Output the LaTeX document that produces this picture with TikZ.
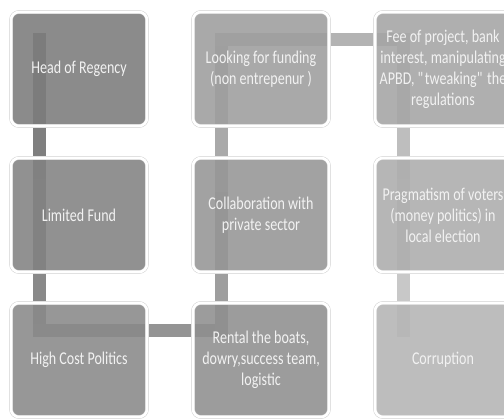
\documentclass[tikz,border=0pt]{standalone}
\usepackage{fontspec}
\setmainfont{Carlito}[FakeStretch=0.78]
\usepackage{tikz}
\usetikzlibrary{backgrounds}

% stage fills, dark to light
\definecolor{boxA}{RGB}{124,124,124}
\definecolor{boxB}{RGB}{130,130,130}
\definecolor{boxC}{RGB}{137,137,137}
\definecolor{boxD}{RGB}{143,143,143}
\definecolor{boxE}{RGB}{150,150,150}
\definecolor{boxF}{RGB}{158,158,158}
\definecolor{boxG}{RGB}{165,165,165}
\definecolor{boxH}{RGB}{173,173,173}
\definecolor{boxI}{RGB}{181,181,181}
% bars between stages
\definecolor{linkA}{RGB}{127,127,127}
\definecolor{linkB}{RGB}{137,137,137}
\definecolor{linkC}{RGB}{148,148,148}
\definecolor{linkD}{RGB}{158,158,158}
\definecolor{linkE}{RGB}{169,169,169}
\definecolor{linkF}{RGB}{179,179,179}
\definecolor{linkG}{RGB}{190,190,190}
\definecolor{linkH}{RGB}{200,200,200}

\tikzset{
  stage/.style={rectangle, rounded corners=8pt, minimum width=136pt, minimum height=114pt,
    inner sep=0pt, outer sep=0pt, fill opacity=0.88, text opacity=1,
    draw=black!18, double=white, double distance=2.6pt, line width=0.5pt,
    text=white!95!black, align=center, font=\fontsize{18}{21}\selectfont},
  link/.style={line width=13pt, line cap=rect},
}

\begin{document}
\begin{tikzpicture}[x=1pt,y=-1pt]
    \clip (0,0) rectangle (504,419);

    \node[stage, fill=boxA] (head) at (79,69) {Head of Regency};
    \node[stage, fill=boxB] (fund) at (79,215) {Limited Fund};
    \node[stage, fill=boxC] (cost) at (79,360) {High Cost Politics};
    \node[stage, fill=boxD] (rental) at (261,360) {Rental the boats,\\dowry,success team,\\logistic};
    \node[stage, fill=boxE] (collab) at (261,215) {Collaboration with\\private sector};
    \node[stage, fill=boxF] (funding) at (261,69) {Looking for funding\\(non entrepenur )};
    \node[stage, fill=boxG] (fee) at (443,69) {Fee of project, bank\\interest, manipulating\\APBD, \textquotedbl tweaking\textquotedbl{} the\\regulations};
    \node[stage, fill=boxH] (voters) at (443,215) {Pragmatism of voters\\(money politics) in\\local election};
    \node[stage, fill=boxI] (corruption) at (443,360) {Corruption};

    % bars run behind the stages
    \begin{scope}[on background layer]
        \fill[white] (0,0) rectangle (504,419);
        \foreach \from/\to/\col in {head/fund/linkA, fund/cost/linkB, cost/rental/linkC,
                rental/collab/linkD, collab/funding/linkE, funding/fee/linkF,
                fee/voters/linkG, voters/corruption/linkH}
            \draw[link, draw=\col] ([shift={(28pt,-28pt)}]\from.north west)
                -- ([shift={(28pt,-28pt)}]\to.north west);
    \end{scope}
\end{tikzpicture}
\end{document}
